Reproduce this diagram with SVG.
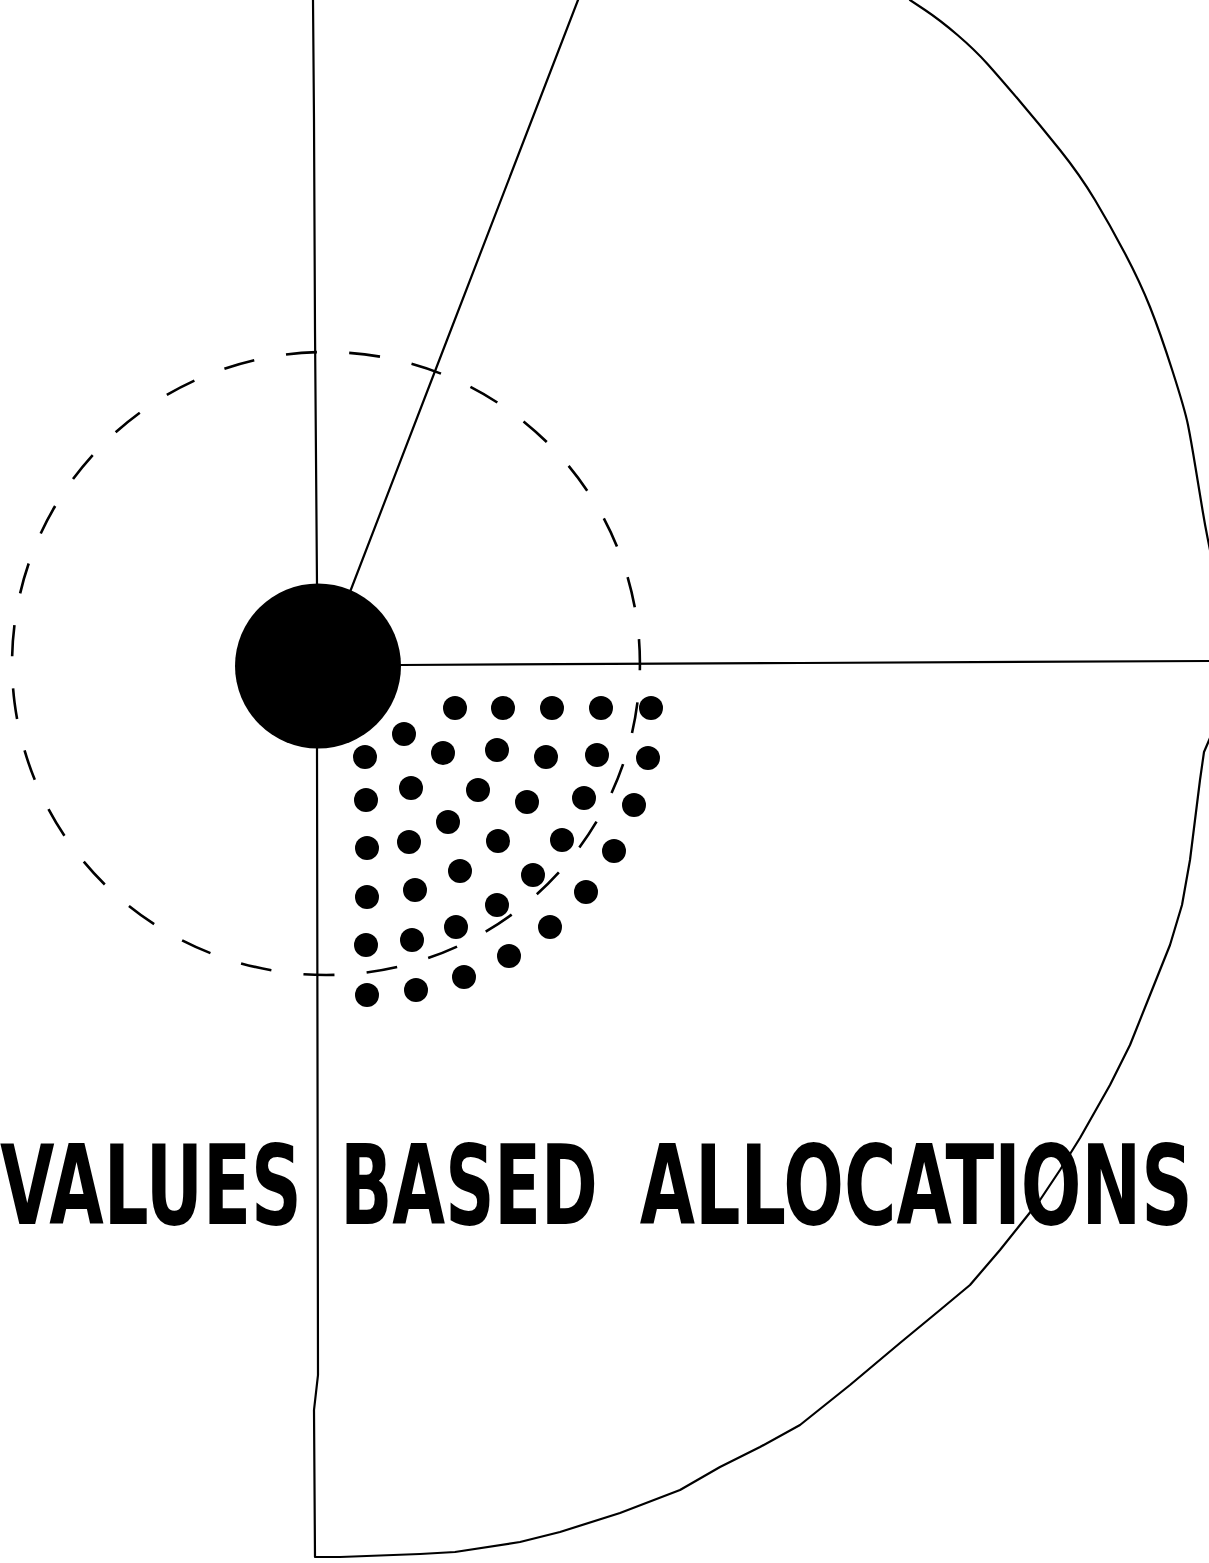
<svg xmlns="http://www.w3.org/2000/svg" width="1209" height="1563" viewBox="0 0 1209 1563">
  <style>
    .ln { fill: none; stroke: #000; stroke-width: 2.2; stroke-linejoin: round; stroke-linecap: round; }
    .dash { fill: none; stroke: #000; stroke-width: 2.6; stroke-dasharray: 49 51; }
    .dot { fill: #000; }
    .title { font-family: "DejaVu Sans Condensed", "DejaVu Sans", sans-serif; font-weight: bold; font-size: 110px; fill: #000; }
  </style>
  <rect width="1209" height="1563" fill="#fff"/>

  <!-- outline lines: axis, spoke, horizon and the quarter-disc edge -->
  <g id="lines">
    <path class="ln" d="M313,0 L314,120 L315,330 L317,585"/>
    <path class="ln" d="M317,748 L318,1375 L314,1410 L315,1557 L340,1557 L420,1554 L455,1552 L520,1542 L560,1532 L620,1513 L680,1490 L720,1467 L760,1447 L800,1425 L850,1385 L900,1343 L940,1310 L970,1285 L1000,1250 L1020,1225 L1040,1200 L1060,1170 L1080,1138 L1110,1085 L1130,1045 L1150,995 L1170,945 L1182,905 L1190,860 L1195,820 L1200,780 L1204,752 L1210,738"/>
    <path class="ln" d="M910,0 L925,10 Q940,20 957.5,35 Q975,50 987.5,64 Q1000,78 1020,101.5 Q1040,125 1060,150 Q1080,175 1095,200 Q1110,225 1125,253.5 Q1140,282 1150,307 Q1160,332 1172.5,371 Q1185,410 1188,425 Q1191,440 1195.5,467.5 Q1200,495 1202.5,510 Q1205,525 1207.5,537.5 L1210,550"/>
    <path class="ln" d="M350,592 L447,340 L578,0"/>
    <path class="ln" d="M400,665 L800,663 L1209,661"/>
  </g>

  <!-- dashed orbit -->
  <g id="orbit">
    <path class="dash" pathLength="3100" d="M286,354.5 A314,311.5 0 0 1 366,972.5 A314,311.5 0 0 1 286,354.5"/>
  </g>

  <!-- central hub -->
  <g id="hub">
    <ellipse cx="318" cy="666" rx="83" ry="82.5" fill="#000"/>
  </g>

  <!-- dot field -->
  <g id="dots" class="dot">
    <circle cx="455" cy="708" r="12"/><circle cx="503" cy="708" r="12"/><circle cx="552" cy="708" r="12"/><circle cx="601" cy="708" r="12"/><circle cx="651" cy="708" r="12"/>
    <circle cx="404" cy="734" r="12"/>
    <circle cx="365" cy="757" r="12"/><circle cx="443" cy="753" r="12"/><circle cx="497" cy="750" r="12"/><circle cx="546" cy="757" r="12"/><circle cx="597" cy="755" r="12"/><circle cx="648" cy="758" r="12"/>
    <circle cx="366" cy="800" r="12"/><circle cx="411" cy="788" r="12"/><circle cx="478" cy="790" r="12"/><circle cx="527" cy="802" r="12"/><circle cx="584" cy="798" r="12"/><circle cx="634" cy="805" r="12"/>
    <circle cx="367" cy="848" r="12"/><circle cx="409" cy="842" r="12"/><circle cx="448" cy="822" r="12"/><circle cx="498" cy="841" r="12"/><circle cx="562" cy="840" r="12"/><circle cx="614" cy="851" r="12"/>
    <circle cx="367" cy="897" r="12"/><circle cx="415" cy="890" r="12"/><circle cx="460" cy="871" r="12"/><circle cx="533" cy="875" r="12"/><circle cx="586" cy="892" r="12"/><circle cx="497" cy="905" r="12"/>
    <circle cx="366" cy="945" r="12"/><circle cx="412" cy="940" r="12"/><circle cx="456" cy="927" r="12"/><circle cx="550" cy="927" r="12"/><circle cx="509" cy="956" r="12"/>
    <circle cx="367" cy="995" r="12"/><circle cx="416" cy="990" r="12"/><circle cx="464" cy="977" r="12"/>
  </g>

  <!-- title, horizontally condensed -->
  <g id="title" class="title" transform="scale(0.7,1)">
    <text x="0" y="1224" textLength="431" lengthAdjust="spacingAndGlyphs">VALUES</text>
    <text x="486" y="1224" textLength="368" lengthAdjust="spacingAndGlyphs">BASED</text>
    <text x="914" y="1224" textLength="790" lengthAdjust="spacingAndGlyphs">ALLOCATIONS</text>
  </g>
</svg>
